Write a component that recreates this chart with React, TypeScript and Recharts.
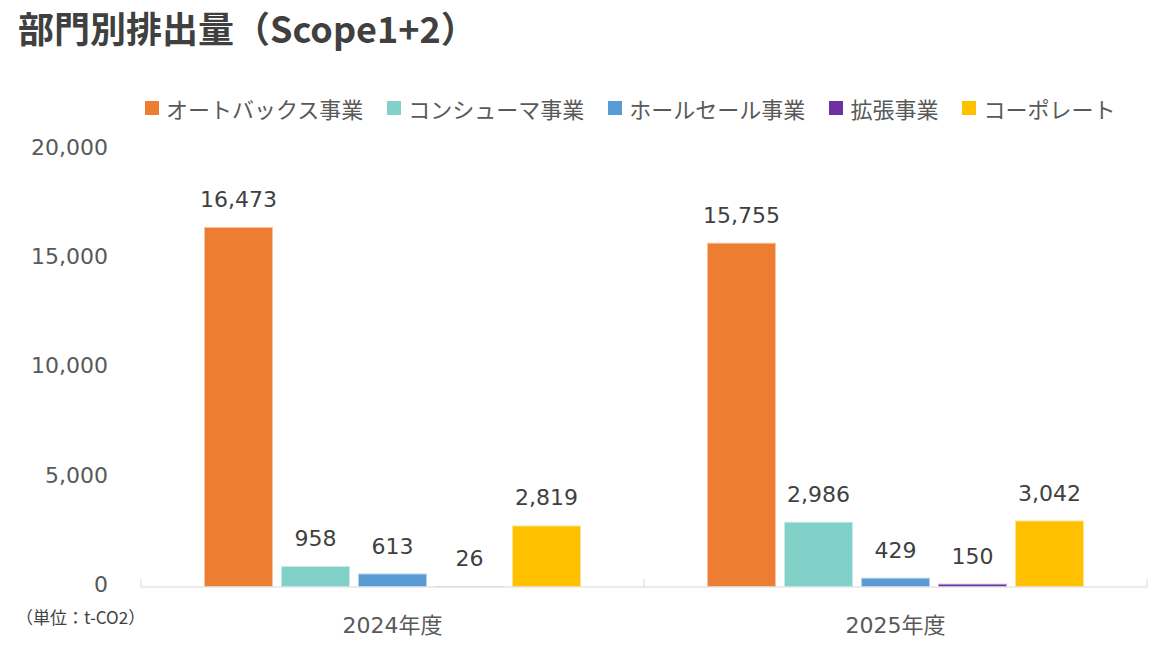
import { BarChart, Bar, XAxis, YAxis, LabelList } from "recharts";

const categories = ["2024年度", "2025年度"];
const seriesNames = ["オートバックス事業", "コンシューマ事業", "ホールセール事業", "拡張事業", "コーポレート"];
const autobacs = [16473, 15755];
const consumer = [958, 2986];
const wholesale = [613, 429];
const expansion = [26, 150];
const corporate = [2819, 3042];
const yTicks = [0, 5000, 10000, 15000, 20000];
const colors = ["#ED7D31", "#81D1C8", "#5B9BD5", "#7030A0", "#FFC000"];

const seriesValues = [autobacs, consumer, wholesale, expansion, corporate];
const data = categories.map((name, i) => {
  const row: Record<string, string | number> = { name };
  seriesNames.forEach((s, j) => {
    row[s] = seriesValues[j][i];
  });
  return row;
});

const W = 1172;
const H = 662;
const M = { top: 150, right: 25, bottom: 35, left: 0 };
const Y_W = 141;
const X_H = 40;
const plotLeft = M.left + Y_W;
const plotRight = W - M.right;
const plotBottom = H - M.bottom - X_H;

const FONT = "'DejaVu Sans', 'Noto Sans CJK JP', sans-serif";
const JP = "'Noto Sans CJK JP', sans-serif";
const fmt = (v: number) => v.toLocaleString("en-US");

export default function App() {
  const band = (plotRight - plotLeft) / categories.length;
  return (
    <div style={{ position: "absolute", left: 0, top: 0, width: W, height: H, background: "#fff", overflow: "hidden" }}>
      <div
        style={{
          position: "absolute",
          left: 18,
          top: 5,
          fontFamily: JP,
          fontWeight: 700,
          fontSize: 36,
          lineHeight: "44px",
          color: "#404040",
          whiteSpace: "nowrap",
        }}
      >
        部門別排出量（Scope1+2）
      </div>

      {/* Legend */}
      <div style={{ position: "absolute", left: 145, top: 97, display: "flex", alignItems: "center", fontFamily: JP, fontSize: 22, lineHeight: "22px", color: "#595959", whiteSpace: "nowrap" }}>
        {seriesNames.map((s, i) => (
          <div key={s} style={{ display: "flex", alignItems: "center", marginRight: 24 }}>
            <span style={{ display: "inline-block", width: 14, height: 14, background: colors[i], marginRight: 7 }} />
            <span>{s}</span>
          </div>
        ))}
      </div>

      <div style={{ position: "absolute", left: 0, top: 0 }}>
        <BarChart width={W} height={H} data={data} margin={M} barSize={69} barGap={8}>
          <XAxis
            dataKey="name"
            height={X_H}
            tickLine={false}
            axisLine={{ stroke: "#d9d9d9" }}
            tickMargin={24}
            tick={{ fill: "#595959", fontSize: 22, fontFamily: FONT }}
          />
          <YAxis
            width={Y_W}
            domain={[0, 20000]}
            ticks={yTicks}
            tickFormatter={fmt}
            axisLine={false}
            tickLine={false}
            tickMargin={27}
            tick={{ fill: "#595959", fontSize: 22, fontFamily: FONT, dy: -3 }}
          />
          {seriesNames.map((s, i) => (
            <Bar key={s} dataKey={s} fill={colors[i]} stroke="#ffffff" strokeOpacity={0.55} strokeWidth={2} isAnimationActive={false}>
              <LabelList dataKey={s} position="top" offset={20} formatter={(v: any) => fmt(Number(v))} fill="#404040" fontSize={22} fontFamily={FONT} />
            </Bar>
          ))}
        </BarChart>
      </div>

      {/* category boundary tick marks */}
      <svg width={W} height={H} style={{ position: "absolute", left: 0, top: 0, pointerEvents: "none" }}>
        {[0, ...categories.map((_, i) => i + 1)].map((k) => (
          <line key={k} x1={plotLeft + k * band} x2={plotLeft + k * band} y1={plotBottom - 8} y2={plotBottom} stroke="#d9d9d9" strokeWidth={1} />
        ))}
      </svg>

      <div style={{ position: "absolute", left: 16, top: 605, fontFamily: JP, fontSize: 17, lineHeight: "24px", color: "#404040", whiteSpace: "nowrap" }}>
        （単位：t-CO2）
      </div>
    </div>
  );
}
